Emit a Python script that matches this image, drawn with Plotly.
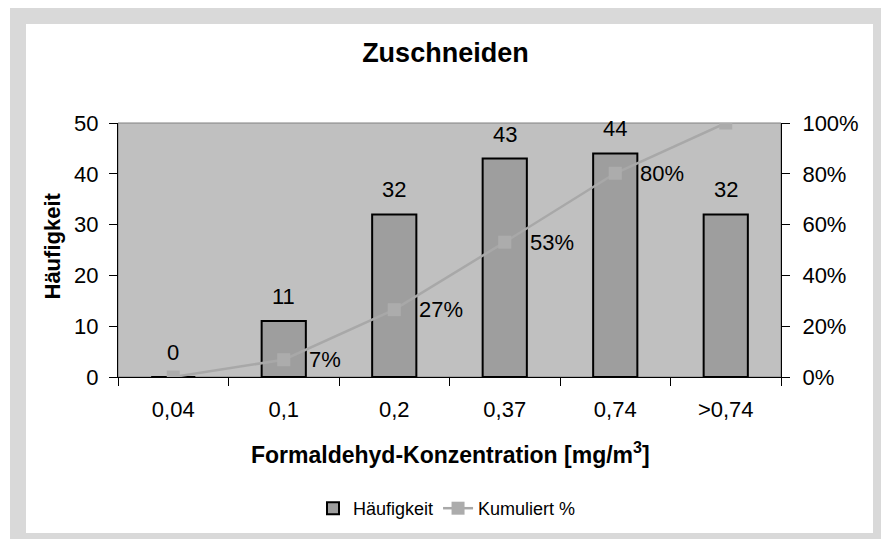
import plotly.graph_objects as go

categories = ["0,04", "0,1", "0,2", "0,37", "0,74", ">0,74"]
haeufigkeit = [0, 11, 32, 43, 44, 32]
kumuliert = [0, 6.8, 26.5, 53.1, 80.2, 100]
kum_labels = ["", "7%", "27%", "53%", "80%", ""]
y_ticks = [0, 10, 20, 30, 40, 50]
y2_ticks = [0, 20, 40, 60, 80, 100]
y2_ticktext = ["0%", "20%", "40%", "60%", "80%", "100%"]

FONT = "Arial, 'Liberation Sans', sans-serif"
W, H = 889, 539
L, R, T, B = 110, 773, 115, 369


def px_x(px):
    return (px - L) / (R - L)


def px_y(py):
    return (B - py) / (B - T)


fig = go.Figure()
fig.add_trace(go.Bar(
    x=categories, y=haeufigkeit, name="Häufigkeit", width=0.4,
    marker=dict(color="#9e9e9e", line=dict(color="black", width=2)),
))
fig.add_trace(go.Scatter(
    x=categories, y=kumuliert, name="Kumuliert %", yaxis="y2",
    mode="lines+markers",
    line=dict(color="#a8a8a8", width=2.5),
    marker=dict(symbol="square", size=13, color="#acacac"),
))

annotations = []
for c, v in zip(categories, haeufigkeit):
    annotations.append(dict(x=c, y=v, xref="x", yref="y", text=str(v), showarrow=False,
                            yanchor="bottom", xanchor="center", yshift=10,
                            font=dict(family=FONT, size=22, color="black")))
for c, v, t in zip(categories, kumuliert, kum_labels):
    if t:
        annotations.append(dict(x=c, y=v, xref="x", yref="y2", text=t, showarrow=False,
                                yanchor="middle", xanchor="left", xshift=23,
                                font=dict(family=FONT, size=22, color="black")))
annotations.append(dict(x=px_x(43.5), y=px_y(238), xref="paper", yref="paper",
                        text="<b>Häufigkeit</b>", textangle=-90, showarrow=False,
                        xanchor="center", yanchor="middle",
                        font=dict(family=FONT, size=22, color="black")))
annotations.append(dict(x=px_x(442), y=px_y(445), xref="paper", yref="paper",
                        text="<b>Formaldehyd-Konzentration [mg/m<sup>3</sup>]</b>", showarrow=False,
                        xanchor="center", yanchor="middle",
                        font=dict(family=FONT, size=23, color="black")))

shapes = [
    dict(type="rect", xref="paper", yref="paper", x0=px_x(2), x1=px_x(900), y0=px_y(560), y1=px_y(0),
         fillcolor="#d9d9d9", line=dict(width=0), layer="below"),
    dict(type="rect", xref="paper", yref="paper", x0=px_x(18), x1=px_x(865), y0=px_y(525), y1=px_y(16),
         fillcolor="white", line=dict(width=0), layer="below"),
    dict(type="rect", xref="paper", yref="paper", x0=0, x1=1, y0=0, y1=1,
         fillcolor="#c0c0c0", line=dict(color="#808080", width=1), layer="below"),
]

axis_common = dict(showline=True, linecolor="black", linewidth=1, ticks="outside", ticklen=8,
                   tickcolor="black", showgrid=False, zeroline=False, tickfont=dict(size=22),
                   automargin=False)

fig.update_layout(
    width=W, height=H,
    margin=dict(l=L, r=W - R, t=T, b=H - B, autoexpand=False),
    paper_bgcolor="white", plot_bgcolor="#c0c0c0",
    font=dict(family=FONT, size=22, color="black"),
    title=dict(text="<b>Zuschneiden</b>", x=437.4 / W, xref="container", xanchor="center",
               y=1 - 45 / H, yref="container", yanchor="middle",
               font=dict(family=FONT, size=27, color="black")),
    xaxis=dict(type="category", tickson="boundaries", tickangle=0, ticklabelstandoff=13,
               **axis_common),
    yaxis=dict(range=[0, 50], tickvals=y_ticks, ticklabelstandoff=6, **axis_common),
    yaxis2=dict(range=[0, 100], tickvals=y2_ticks, ticktext=y2_ticktext, overlaying="y",
                side="right", ticklabelstandoff=8, **axis_common),
    yaxis3=dict(range=[0, 50], tickvals=y_ticks, overlaying="y", side="left", anchor="x",
                ticks="inside", ticklen=7, tickcolor="black", showticklabels=False,
                showline=False, showgrid=False, zeroline=False),
    yaxis4=dict(range=[0, 100], tickvals=y2_ticks, overlaying="y", side="right", anchor="x",
                ticks="inside", ticklen=7, tickcolor="black", showticklabels=False,
                showline=False, showgrid=False, zeroline=False),
    showlegend=True,
    legend=dict(orientation="h", x=439 / W, xref="container", xanchor="center",
                y=1 - 500.5 / H, yref="container", yanchor="middle",
                font=dict(family=FONT, size=18), bgcolor="rgba(0,0,0,0)"),
    annotations=annotations, shapes=shapes,
)

fig.write_html("out.html")
